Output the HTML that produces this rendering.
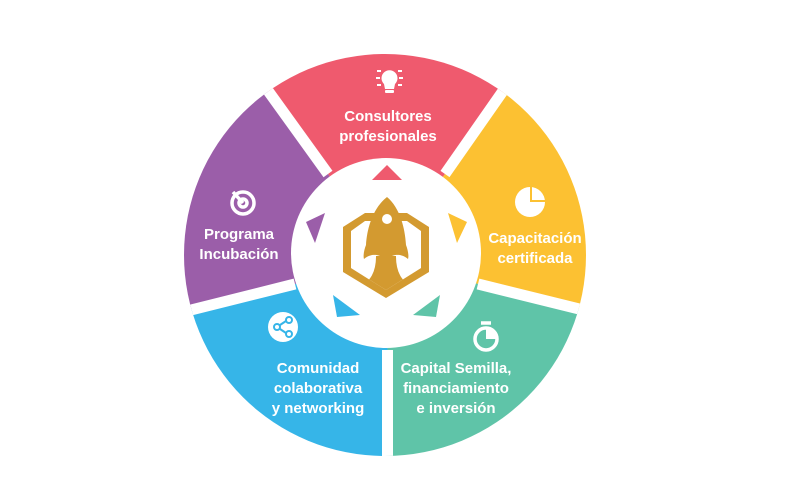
<!DOCTYPE html>
<html><head><meta charset="utf-8"><style>
html,body{margin:0;padding:0;background:#fff;overflow:hidden;width:800px;height:500px;}
svg{display:block}
text{font-family:"Liberation Sans",sans-serif;font-weight:bold;font-size:15px;fill:#fff;}
</style></head><body>
<svg width="800" height="500" viewBox="0 0 800 500">
<defs>
<clipPath id="c"><circle cx="385" cy="255" r="201"/></clipPath>
<clipPath id="hexin"><polygon points="365,221 351,231 351,268 386,290 421,268 421,231 407,221 407,256 365,256"/></clipPath>
</defs>
<g clip-path="url(#c)">
<polygon fill="#ef5a6e" points="385,255 328,174 230,38 385,-150 540,38 445,174"/>
<polygon fill="#fcc132" points="385,255 445,174 540,38 800,130 660,329 478,284"/>
<polygon fill="#5fc4a8" points="385,255 478,284 660,329 600,620 387.5,480 387.5,350"/>
<polygon fill="#36b5e8" points="385,255 387.5,350 387.5,480 170,620 115,329 295,284"/>
<polygon fill="#9b5ea9" points="385,255 295,284 115,329 -10,130 230,38 328,174"/>
<g stroke="#fff" stroke-width="11">
<line x1="328" y1="174" x2="230" y2="38"/>
<line x1="445" y1="174" x2="540" y2="38"/>
<line x1="478" y1="284" x2="660" y2="329"/>
<line x1="387.5" y1="350" x2="387.5" y2="480"/>
<line x1="295" y1="284" x2="115" y2="329"/>
</g>
</g>
<circle cx="386" cy="253" r="95" fill="#fff"/>
<polygon fill="#ef5a6e" points="387,165 372,180 402,180"/>
<polygon fill="#9b5ea9" points="306,222 325,213 315,243"/>
<polygon fill="#fcc132" points="448,213 467,222 457,243"/>
<polygon fill="#36b5e8" points="333,295 360,315 337,317"/>
<polygon fill="#5fc4a8" points="440,295 413,315 436,317"/>
<!-- logo -->
<polygon fill="#d39a30" points="365,213 343,227 343,272 386,298 429,272 429,227 407,213"/>
<polygon fill="#fff" points="365,221 351,231 351,268 386,290 421,268 421,231 407,221"/>
<g clip-path="url(#hexin)">
<rect x="345" y="256" width="80" height="40" fill="#d39a30"/>
<ellipse cx="362" cy="257" rx="14" ry="26" fill="#fff"/>
<ellipse cx="410" cy="257" rx="14" ry="26" fill="#fff"/>
</g>
<path fill="#d39a30" d="M387,197 C373,208 367,228 366,245 C364,250 363,256 364,259 C372,252 380,256 380,256 L392,256 C392,256 400,252 408,259 C409,256 408,250 406,245 C405,228 400,208 387,197Z"/>
<circle cx="387" cy="219" r="5" fill="#fff"/>
<!-- icons -->
<g fill="#fff">
<path d="M384,84 a8,8 0 1 1 11,0 l-1,5 h-9z"/>
<rect x="385" y="90" width="9" height="3" rx="1"/>
<rect x="376" y="77" width="4" height="2"/><rect x="399" y="77" width="4" height="2"/>
<rect x="377" y="70" width="4" height="2"/><rect x="398" y="70" width="4" height="2"/>
<rect x="377" y="84" width="4" height="2"/><rect x="398" y="84" width="4" height="2"/>
</g>
<g fill="none" stroke="#fff" stroke-width="3.5">
<circle cx="243" cy="203" r="11"/>
<circle cx="243" cy="203" r="4"/>
<line x1="243" y1="203" x2="233" y2="192"/>
</g>
<circle cx="530" cy="202" r="15" fill="#fff"/>
<path d="M531,187 v14 h14" fill="none" stroke="#fcc132" stroke-width="2"/>
<circle cx="283" cy="327" r="15" fill="#fff"/>
<g stroke="#36b5e8" stroke-width="2" fill="none">
<circle cx="289" cy="320" r="3"/><circle cx="277" cy="327" r="3"/><circle cx="289" cy="334" r="3"/>
<line x1="280" y1="325" x2="286" y2="321"/><line x1="280" y1="329" x2="286" y2="333"/>
</g>
<g fill="none" stroke="#fff" stroke-width="3.5">
<circle cx="486" cy="339" r="11"/>
<path d="M481,323 h10"/>
</g>
<path d="M486,339 L486,329 A10,10 0 0 1 496,339Z" fill="#fff"/>
<!-- text -->
<text x="388" y="121" text-anchor="middle">Consultores</text>
<text x="388" y="141" text-anchor="middle">profesionales</text>
<text x="239" y="239" text-anchor="middle">Programa</text>
<text x="239" y="259" text-anchor="middle">Incubación</text>
<text x="535" y="243" text-anchor="middle">Capacitación</text>
<text x="535" y="263" text-anchor="middle">certificada</text>
<text x="318" y="373" text-anchor="middle">Comunidad</text>
<text x="318" y="393" text-anchor="middle">colaborativa</text>
<text x="318" y="413" text-anchor="middle">y networking</text>
<text x="456" y="373" text-anchor="middle">Capital Semilla,</text>
<text x="456" y="393" text-anchor="middle">financiamiento</text>
<text x="456" y="413" text-anchor="middle">e inversión</text>
</svg>
</body></html>
